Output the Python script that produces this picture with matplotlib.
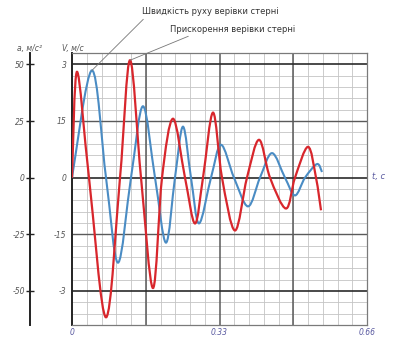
import numpy as np
import matplotlib
matplotlib.use("Agg")
import matplotlib.pyplot as plt
from matplotlib.path import Path
from matplotlib.patches import PathPatch

# Rope acceleration a (m/s^2): extrema and zero crossings over time t (s)
t_acc = [0.0, 0.0112, 0.038, 0.0761, 0.1074, 0.1298, 0.1544, 0.1812, 0.2014,
         0.226, 0.2528, 0.2752, 0.2931, 0.3155, 0.3356, 0.3647, 0.3915,
         0.4184, 0.443, 0.4788, 0.4989, 0.528, 0.5459, 0.5571]
acc = [0.0, 46.7, 0.0, -61.6, 0.0, 51.8, 0.0, -48.7, 0.0,
       26.0, 0.0, -20.2, 0.0, 28.7, 0.0, -23.3, 0.0,
       16.7, 0.0, -13.6, 0.0, 13.6, 0.0, -14.4]

# Rope velocity V (m/s)
t_vel = [0.0, 0.0447, 0.0761, 0.1029, 0.132, 0.1588, 0.1857, 0.2103, 0.2304,
         0.2483, 0.2662, 0.2841, 0.311, 0.3334, 0.3624, 0.3938, 0.4206,
         0.4475, 0.4765, 0.4989, 0.5213, 0.5481, 0.5593]
vel = [0.0, 2.84, 0.0, -2.25, 0.0, 1.89, 0.0, -1.72, 0.0,
       1.35, 0.0, -1.21, 0.0, 0.87, 0.0, -0.76, 0.0,
       0.65, 0.0, -0.47, 0.0, 0.36, 0.15]

v_ticks = [3, 1.5, 0, -1.5, -3]
v_labels = ["3", "15", "0", "-15", "-3"]
a_ticks = [50, 25, 0, -25, -50]
a_labels = ["50", "25", "0", "-25", "-50"]
t_ticks = [0, 0.33, 0.66]
t_labels = ["0", "0.33", "0.66"]

RED = "#d8262c"
BLUE = "#4a8cc4"
TXT = "#555555"


def smooth_path(x, y):
    """Catmull-Rom curve through the given points as a cubic Bezier path."""
    pts = np.column_stack([x, y]).astype(float)
    n = len(pts)
    verts = [pts[0]]
    codes = [Path.MOVETO]
    for i in range(n - 1):
        p0 = pts[i - 1] if i > 0 else pts[i]
        p1, p2 = pts[i], pts[i + 1]
        p3 = pts[i + 2] if i + 2 < n else pts[i + 1]
        verts += [p1 + (p2 - p0) / 6, p2 - (p3 - p1) / 6, p2]
        codes += [Path.CURVE4] * 3
    return Path(verts, codes)


fig = plt.figure(figsize=(3.98, 3.38), dpi=100)
ax = fig.add_axes([72 / 398, 1 - 325 / 338, 295 / 398, 272 / 338])
ax.set_xlim(0, 0.66)
ax.set_ylim(-3.9, 3.3)

# graph-paper grid
ax.set_xticks(np.arange(0, 0.6601, 0.033), minor=True)
ax.set_yticks(np.arange(-3.9, 3.301, 0.3), minor=True)
ax.grid(True, which="minor", color="#c4c4c4", lw=0.6)
for xv in np.arange(0.165, 0.66, 0.165):
    ax.axvline(xv, color="#5a5a5a", lw=1.1, zorder=1)
for yv in v_ticks:
    ax.axhline(yv, color="#2a2a2a" if yv in (3, 0, -3) else "#5a5a5a",
               lw=1.2 if yv in (3, 0, -3) else 1.0, zorder=1)
ax.set_axisbelow(True)

ax.set_xticks(t_ticks, t_labels)
ax.set_yticks(v_ticks, v_labels)
ax.tick_params(axis="both", which="both", length=0)
ax.tick_params(axis="y", pad=4, labelsize=5.5, labelcolor=TXT)
ax.tick_params(axis="x", pad=2, labelsize=5.5, labelcolor="#5a5aa0")
for lab in ax.get_xticklabels() + ax.get_yticklabels():
    lab.set_fontstyle("italic")

for side, sp in ax.spines.items():
    if side == "left":
        sp.set_color("#222222")
        sp.set_linewidth(1.4)
    else:
        sp.set_color("#7a7a7a")
        sp.set_linewidth(0.9)

# acceleration scale on a separate left axis
ax2 = ax.twinx()
ax2.set_ylim(-65, 55)
ax2.yaxis.tick_left()
ax2.spines["left"].set_visible(True)
ax2.spines["left"].set_position(("outward", 30))
ax2.spines["left"].set_color("#222222")
ax2.spines["left"].set_linewidth(1.4)
for side in ("right", "top", "bottom"):
    ax2.spines[side].set_visible(False)
ax2.set_yticks(a_ticks, a_labels)
ax2.tick_params(axis="y", direction="inout", length=6, width=1.0,
                color="#222222", pad=1, labelsize=5.5, labelcolor=TXT)
for lab in ax2.get_yticklabels():
    lab.set_fontstyle("italic")

ax.add_patch(PathPatch(smooth_path(t_vel, vel), fill=False,
                       edgecolor=BLUE, lw=1.5, zorder=3))
ax2.add_patch(PathPatch(smooth_path(t_acc, acc), fill=False,
                        edgecolor=RED, lw=1.6, zorder=3))

# axis captions
fig.text(17 / 398, 1 - 49 / 338, "a, м/с²", fontsize=5.5, style="italic",
         color=TXT, va="center", ha="left")
fig.text(62 / 398, 1 - 49 / 338, "V, м/с", fontsize=5.5, style="italic",
         color=TXT, va="center", ha="left")
fig.text(372 / 398, 1 - 177 / 338, "t, с", fontsize=6, style="italic",
         color="#5a5aa0", va="center", ha="left")

# callouts
ax.annotate("Швидкість руху верiвки стерні", xy=(t_vel[1], vel[1]),
            xycoords="data", xytext=(142 / 398, 1 - 12 / 338),
            textcoords="figure fraction", fontsize=6, color="#333333",
            ha="left", va="center",
            arrowprops=dict(arrowstyle="-", color="#777777", lw=0.6,
                            shrinkA=0, shrinkB=0, relpos=(0.03, 0.0)))
ax2.annotate("Прискорення верiвки стерні", xy=(t_acc[5], acc[5]),
             xycoords="data", xytext=(170 / 398, 1 - 29 / 338),
             textcoords="figure fraction", fontsize=6, color="#333333",
             ha="left", va="center",
             arrowprops=dict(arrowstyle="-", color="#777777", lw=0.6,
                             shrinkA=0, shrinkB=0, relpos=(0.2, 0.0)))

fig.savefig("out.png", dpi=100)
